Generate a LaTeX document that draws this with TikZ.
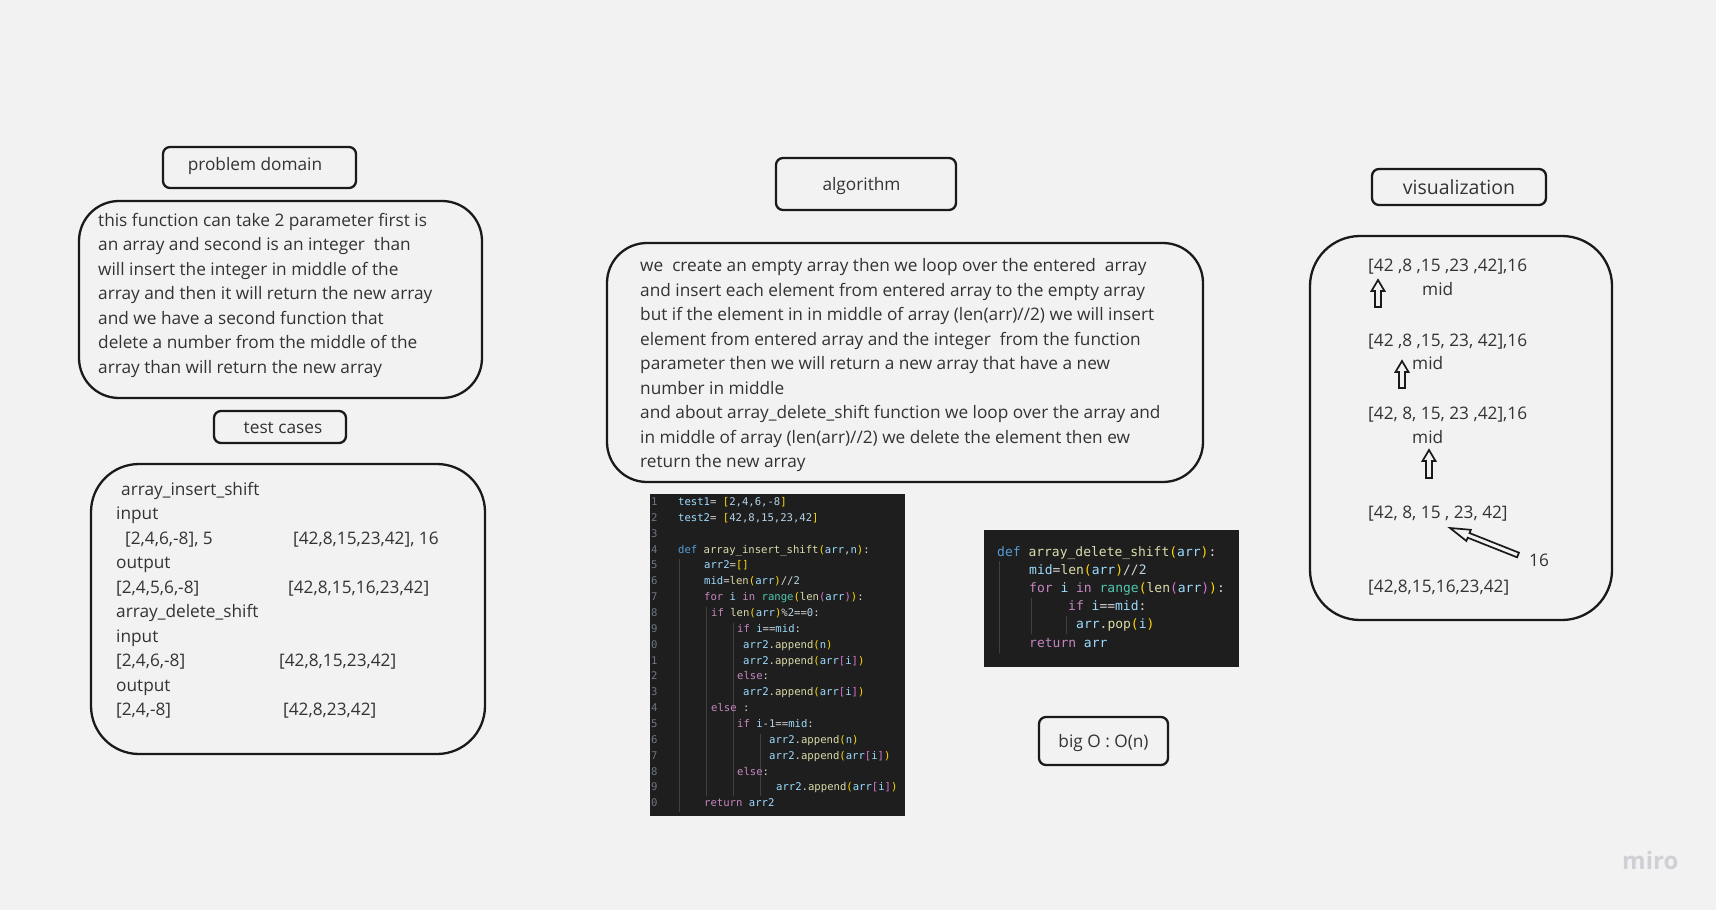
\documentclass[tikz,border=0pt]{standalone}
\usepackage{fontspec}
\setmainfont{Open Sans}
\setmonofont{DejaVu Sans Mono}
\usetikzlibrary{calc}
\definecolor{bgc}{HTML}{F2F2F2}
\definecolor{linec}{HTML}{1A1A1A}
\definecolor{txt}{HTML}{333333}
\definecolor{codebg}{HTML}{1E1E1E}
\definecolor{cdef}{HTML}{D4D4D4}
\definecolor{ckw}{HTML}{569CD6}
\definecolor{cct}{HTML}{C586C0}
\definecolor{cfn}{HTML}{DCDCAA}
\definecolor{cva}{HTML}{9CDCFE}
\definecolor{cbo}{HTML}{FFD700}
\definecolor{cbp}{HTML}{DA70D6}
\definecolor{cnu}{HTML}{B8D4E6}
\definecolor{cty}{HTML}{4EC9B0}
\definecolor{clno}{HTML}{6E7681}
\definecolor{guide}{HTML}{404040}
\definecolor{miroc}{HTML}{CFCFD5}
\newcommand\Ckw[1]{\textcolor{ckw}{#1}}
\newcommand\Cct[1]{\textcolor{cct}{#1}}
\newcommand\Cfn[1]{\textcolor{cfn}{#1}}
\newcommand\Cva[1]{\textcolor{cva}{#1}}
\newcommand\Cbo[1]{\textcolor{cbo}{#1}}
\newcommand\Cbp[1]{\textcolor{cbp}{#1}}
\newcommand\Cnu[1]{\textcolor{cnu}{#1}}
\newcommand\Cty[1]{\textcolor{cty}{#1}}
\newcommand\codeline[4]{\node[codeA] (#1) at (#3,{505.5+15.86*(#2-1)}) {#4};}
\newcommand\blockarrow[5]{%
  \coordinate (ba-b) at ($(#2)!#5!(#1)$);
  \draw[blkarrow] ($(#1)!#3!90:(#2)$) -- ($(ba-b)!#3!-90:(#1)$) -- ($(ba-b)!#4!-90:(#1)$) -- (#2) -- ($(ba-b)!#4!90:(#1)$) -- ($(ba-b)!#3!90:(#1)$) -- ($(#1)!#3!-90:(#2)$) -- cycle;}
\begin{document}
\begin{tikzpicture}[x=1pt,y=-1pt,
  lbl/.style={draw=linec, line width=2.3pt, rounded corners=7pt, text=txt,
    font=\fontsize{17.25}{20}\selectfont, text height=12pt, text depth=0pt, inner sep=0pt},
  bigbox/.style={draw=linec, line width=2.3pt, rounded corners=#1, inner sep=0pt},
  txtl/.style={anchor=base west, inner sep=0pt, text=txt, font=\fontsize{17.25}{20}\selectfont},
  codeA/.style={anchor=base west, inner sep=0pt, text=cdef, font=\fontsize{10.6}{12}\ttfamily},
  codeB/.style={anchor=base west, inner sep=0pt, text=cdef, font=\fontsize{13}{15}\ttfamily},
  lno/.style={anchor=base west, inner sep=0pt, text=clno, font=\fontsize{10.6}{12}\ttfamily},
  guideline/.style={draw=guide, line width=0.8pt},
  blkarrow/.style={draw=linec, line width=1.7pt, line join=miter}]
\fill[bgc] (0,0) rectangle (1716,910);
\useasboundingbox (0,0) rectangle (1716,910);

% ---------------- problem domain
\node[lbl, minimum width=193pt, minimum height=41pt, text height=5.4pt] (pdlab) at (259.5,167.5) {\hspace*{-9pt}problem domain};
\node[bigbox=40pt, minimum width=403pt, minimum height=197pt] (pdbox) at (280.5,299.5) {};
\foreach \t [count=\k] in {this function can take 2 parameter first is,
  an array and second is an integer\ \ than,
  will insert the integer in middle of the,
  array and then it will return the new array,
  and we have a second function that,
  delete a number from the middle of the,
  array than will return the new array}
  \node[txtl] (pd\k) at (98,{226+24.5*(\k-1)}) {\t};

% ---------------- test cases
\node[lbl, minimum width=132pt, minimum height=32pt] (tclab) at (280,427) {\hspace*{6pt}test cases};
\node[bigbox=48pt, minimum width=394pt, minimum height=290pt] (tcbox) at (288,609) {};
\node[txtl] (tc1) at (121,495) {array\_insert\_shift};
\node[txtl] (tc2) at (116,519.5) {input};
\node[txtl] (tc3) at (125,544) {[2,4,6,-8], 5};
\node[txtl] (tc3b) at (293,544) {[42,8,15,23,42], 16};
\node[txtl] (tc4) at (116,568.5) {output};
\node[txtl] (tc5) at (116,593) {[2,4,5,6,-8]};
\node[txtl] (tc5b) at (288,593) {[42,8,15,16,23,42]};
\node[txtl] (tc6) at (116,617.5) {array\_delete\_shift};
\node[txtl] (tc7) at (116,642) {input};
\node[txtl] (tc8) at (116,666.5) {[2,4,6,-8]};
\node[txtl] (tc8b) at (279,666.5) {[42,8,15,23,42]};
\node[txtl] (tc9) at (116,691) {output};
\node[txtl] (tc10) at (116,715.5) {[2,4,-8]};
\node[txtl] (tc10b) at (283,715.5) {[42,8,23,42]};

% ---------------- algorithm
\node[lbl, minimum width=180pt, minimum height=52pt] (alglab) at (866,184) {\hspace*{-9pt}algorithm};
\node[bigbox=40pt, minimum width=596pt, minimum height=239pt] (algbox) at (905,362.5) {};
\foreach \t [count=\k] in {we\ \ create an empty array then we loop over the entered\ \ array,
  and insert each element from entered array to the empty array,
  but if the element in in middle of array (len(arr)//2) we will insert,
  element from entered array and the integer\ \ from the function,
  parameter then we will return a new array that have a new,
  number in middle,
  and about array\_delete\_shift function we loop over the array and,
  in middle of array (len(arr)//2) we delete the element then ew,
  return the new array}
  \node[txtl] (al\k) at (640,{271.5+24.5*(\k-1)}) {\t};

% ---------------- code block 1
\fill[codebg] (650,494) rectangle (905,816);
\foreach \k in {1,...,20}{
  \pgfmathtruncatemacro\dd{mod(\k,10)}
  \node[lno] (ln\k) at (651,{505.5+15.86*(\k-1)}) {\dd};
}
\draw[guideline] (679,559) -- (679,812);
\draw[guideline] (706,607) -- (706,796);
\draw[guideline] (733,623) -- (733,796);
\draw[guideline] (760,734) -- (760,796);
\codeline{c1}{1}{678}{\Cva{test1}= \Cbo{[}\Cnu{2,4,6,-8}\Cbo{]}}
\codeline{c2}{2}{678}{\Cva{test2}= \Cbo{[}\Cnu{42,8,15,23,42}\Cbo{]}}
\codeline{c4}{4}{678}{\Ckw{def} \Cfn{array\_insert\_shift}\Cbo{(}\Cva{arr},\Cva{n}\Cbo{)}:}
\codeline{c5}{5}{704}{\Cva{arr2}=\Cbo{[]}}
\codeline{c6}{6}{704}{\Cva{mid}=\Cfn{len}\Cbo{(}\Cva{arr}\Cbo{)}//\Cnu{2}}
\codeline{c7}{7}{704}{\Cct{for} \Cva{i} \Cct{in} \Cty{range}\Cbo{(}\Cfn{len}\Cbp{(}\Cva{arr}\Cbp{)}\Cbo{)}:}
\codeline{c8}{8}{711}{\Cct{if} \Cfn{len}\Cbo{(}\Cva{arr}\Cbo{)}\%\Cnu{2}==\Cnu{0}:}
\codeline{c9}{9}{737}{\Cct{if} \Cva{i}==\Cva{mid}:}
\codeline{c10}{10}{743}{\Cva{arr2}.\Cfn{append}\Cbo{(}\Cva{n}\Cbo{)}}
\codeline{c11}{11}{743}{\Cva{arr2}.\Cfn{append}\Cbo{(}\Cva{arr}\Cbp{[}\Cva{i}\Cbp{]}\Cbo{)}}
\codeline{c12}{12}{737}{\Cct{else}:}
\codeline{c13}{13}{743}{\Cva{arr2}.\Cfn{append}\Cbo{(}\Cva{arr}\Cbp{[}\Cva{i}\Cbp{]}\Cbo{)}}
\codeline{c14}{14}{711}{\Cct{else} :}
\codeline{c15}{15}{737}{\Cct{if} \Cva{i}-\Cnu{1}==\Cva{mid}:}
\codeline{c16}{16}{769}{\Cva{arr2}.\Cfn{append}\Cbo{(}\Cva{n}\Cbo{)}}
\codeline{c17}{17}{769}{\Cva{arr2}.\Cfn{append}\Cbo{(}\Cva{arr}\Cbp{[}\Cva{i}\Cbp{]}\Cbo{)}}
\codeline{c18}{18}{737}{\Cct{else}:}
\codeline{c19}{19}{776}{\Cva{arr2}.\Cfn{append}\Cbo{(}\Cva{arr}\Cbp{[}\Cva{i}\Cbp{]}\Cbo{)}}
\codeline{c20}{20}{704}{\Cct{return} \Cva{arr2}}

% ---------------- code block 2
\fill[codebg] (984,530) rectangle (1239,667);
\draw[guideline] (999,561) -- (999,653);
\draw[guideline] (1031,598) -- (1031,634);
\draw[guideline] (1066,616) -- (1066,634);
\node[codeB] (d1) at (997,556) {\Ckw{def} \Cfn{array\_delete\_shift}\Cbo{(}\Cva{arr}\Cbo{)}:};
\node[codeB] (d2) at (1029,574) {\Cva{mid}=\Cfn{len}\Cbo{(}\Cva{arr}\Cbo{)}//\Cnu{2}};
\node[codeB] (d3) at (1029,592) {\Cct{for} \Cva{i} \Cct{in} \Cty{range}\Cbo{(}\Cfn{len}\Cbp{(}\Cva{arr}\Cbp{)}\Cbo{)}:};
\node[codeB] (d4) at (1068,610) {\Cct{if} \Cva{i}==\Cva{mid}:};
\node[codeB] (d5) at (1076,628.5) {\Cva{arr}.\Cfn{pop}\Cbo{(}\Cva{i}\Cbo{)}};
\node[codeB] (d6) at (1029,647) {\Cct{return} \Cva{arr}};

% ---------------- big O
\node[lbl, minimum width=129pt, minimum height=48pt] (bigo) at (1103.5,741) {big O : O(n)};

% ---------------- visualization
\node[lbl, minimum width=174pt, minimum height=36pt, font=\fontsize{19.5}{22}\selectfont, text height=14pt] (vislab) at (1459,187) {visualization};
\node[bigbox=50pt, minimum width=302pt, minimum height=384pt] (visbox) at (1461,428) {};
\node[txtl] (v1) at (1368,271.5) {[42 ,8 ,15 ,23 ,42],16};
\node[txtl] (m1) at (1422,295) {mid};
\node[txtl] (v2) at (1368,346) {[42 ,8 ,15, 23, 42],16};
\node[txtl] (m2) at (1412,369) {mid};
\node[txtl] (v3) at (1368,419) {[42, 8, 15, 23 ,42],16};
\node[txtl] (m3) at (1412,443) {mid};
\node[txtl] (v4) at (1368,518) {[42, 8, 15 , 23, 42]};
\node[txtl] (n16) at (1529,566) {16};
\node[txtl] (v5) at (1368,592) {[42,8,15,16,23,42]};
\coordinate (a1t) at (1378,307);
\coordinate (a1h) at (1378,280);
\coordinate (a2t) at (1402,388);
\coordinate (a2h) at (1402,361);
\coordinate (a3t) at (1429,478);
\coordinate (a3h) at (1429,450);
\coordinate (a4t) at (1518,555);
\coordinate (a4h) at (1450,528);
\blockarrow{a1t}{a1h}{3pt}{6.5pt}{11pt}
\blockarrow{a2t}{a2h}{3pt}{6.5pt}{11pt}
\blockarrow{a3t}{a3h}{3pt}{6.5pt}{11pt}
\blockarrow{a4t}{a4h}{2.5pt}{6pt}{20pt}

% ---------------- watermark
\node[anchor=base west, inner sep=0pt, text=miroc, font=\fontsize{24}{26}\selectfont\bfseries] (miro) at (1622,869) {miro};
\end{tikzpicture}
\end{document}
